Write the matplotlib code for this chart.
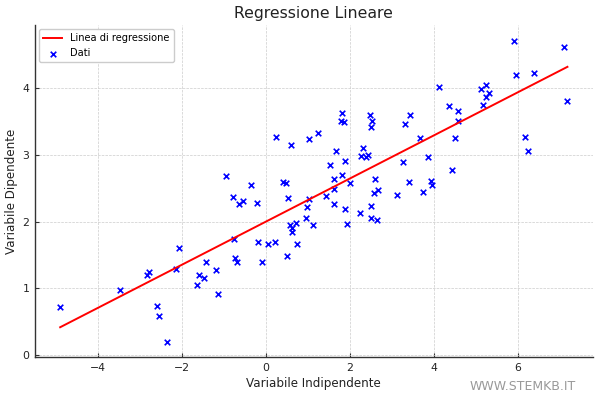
import numpy as np
import matplotlib
matplotlib.use('Agg')
import matplotlib.pyplot as plt

# punti
x = [-4.90, -3.47, -2.83, -2.78, -2.60, -2.55, -2.36, -2.15, -2.06, -1.64,
     -1.60, -1.47, -1.42, -1.18, -1.13, -0.95, -0.79, -0.75, -0.73, -0.69,
     -0.64, -0.55, -0.36, -0.21, -0.19, -0.10, 0.05, 0.22, 0.23, 0.40,
     0.48, 0.49, 0.52, 0.60, 0.58, 0.61, 0.63, 0.72, 0.75, 0.96,
     0.98, 1.03, 1.03, 1.12, 1.23, 1.43, 1.53, 1.61, 1.63, 1.63,
     1.66, 1.81, 1.82, 1.79, 1.85, 1.88, 1.88, 1.93, 2.01, 2.25,
     2.32, 2.27, 2.38, 2.43, 2.50, 2.50, 2.47, 2.52, 2.50, 2.60,
     2.57, 2.67, 2.65, 3.12, 3.26, 3.32, 3.44, 3.40, 3.66, 3.75,
     3.87, 3.94, 3.95, 4.13, 4.35, 4.44, 4.51, 4.58, 4.57, 5.12,
     5.24, 5.23, 5.32, 5.17, 5.91, 5.96, 6.17, 6.24, 6.38, 7.10, 7.18]
y = [0.72, 0.98, 1.20, 1.25, 0.73, 0.58, 0.19, 1.29, 1.60, 1.05,
     1.20, 1.15, 1.40, 1.28, 0.92, 2.68, 2.36, 1.74, 1.45, 1.39,
     2.26, 2.31, 2.55, 2.27, 1.69, 1.39, 1.66, 1.69, 3.26, 2.59,
     2.57, 1.49, 2.35, 3.14, 1.95, 1.91, 1.85, 1.98, 1.67, 2.05,
     2.21, 2.34, 3.23, 1.95, 3.33, 2.38, 2.84, 2.26, 2.49, 2.64,
     3.06, 2.70, 3.62, 3.50, 3.49, 2.90, 2.18, 1.97, 2.58, 2.13,
     3.10, 2.98, 2.97, 3.00, 2.23, 2.06, 3.59, 3.50, 3.41, 2.64,
     2.43, 2.47, 2.02, 2.39, 2.89, 3.46, 3.59, 2.59, 3.25, 2.44,
     2.96, 2.60, 2.55, 4.01, 3.73, 2.77, 3.25, 3.66, 3.50, 3.99,
     4.04, 3.87, 3.93, 3.75, 4.71, 4.20, 3.26, 3.06, 4.23, 4.61, 3.80]

x = np.array(x)
y = np.array(y)

# retta di regressione
m, q = np.polyfit(x, y, 1)
xl = np.array([x.min(), x.max()])
yl = m * xl + q

fig = plt.figure(figsize=(6, 3.97), dpi=100)
ax = fig.add_axes([0.058, 0.0995, 0.93, 0.8365])

ax.plot(xl, yl, color='red', lw=1.4, label='Linea di regressione')
ax.scatter(x, y, marker='x', color='blue', s=16, linewidths=1.2, label='Dati')

ax.set_title('Regressione Lineare', fontsize=11.3, color='#222222', pad=5)
ax.set_xlabel('Variabile Indipendente', fontsize=8.6, color='#222222', labelpad=3)
ax.set_ylabel('Variabile Dipendente', fontsize=8.6, color='#222222', labelpad=3)

ax.grid(True, ls='--', lw=0.5, color='#cccccc')
ax.set_axisbelow(True)
for s in ['top', 'right']:
    ax.spines[s].set_visible(False)
for s in ['left', 'bottom']:
    ax.spines[s].set_color('#333333')
    ax.spines[s].set_linewidth(1.0)
ax.tick_params(direction='in', length=3, width=0.8, labelsize=7.8,
               colors='#333333', labelcolor='#222222', pad=4)

leg = ax.legend(loc='upper left', fontsize=7.1, frameon=True, fancybox=True,
                edgecolor='#cccccc', framealpha=1.0, borderaxespad=0.4)

fig.text(576 / 600, 1 - 386 / 397, 'WWW.STEMKB.IT', ha='right', va='center',
         fontsize=9, color='#999999')

fig.savefig('out.png', dpi=100)
